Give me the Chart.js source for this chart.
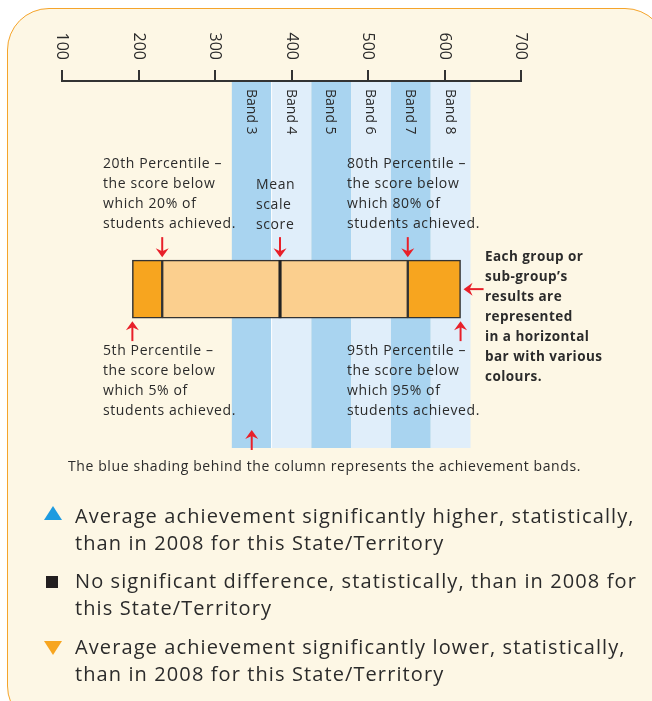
<!DOCTYPE html>
<html lang="en">

<head>
    <meta charset="UTF-8">
    <title>Achievement band key</title>
    <script src="https://cdn.jsdelivr.net/npm/chart.js"></script>
    <style>
        body { margin: 0; background: #fff; font-family: "Open Sans", sans-serif; color: #2b2b2b; }
        .panel { position: absolute; left: 7px; top: 8px; width: 660px; height: 720px;
                 box-sizing: border-box; border: 1.5px solid #f5a42a; border-radius: 42px; background: #fdf7e5; }
        #chart { position: absolute; left: 0; top: 0; }
        .note { position: absolute; font-size: 14px; line-height: 20px; letter-spacing: 0.6px; white-space: nowrap; }
        .bold { font-weight: bold; font-size: 13.5px; letter-spacing: 0.45px; }
        .caption { position: absolute; left: 68px; top: 456px; font-size: 14px; line-height: 20px; letter-spacing: 0.6px; white-space: nowrap; }
        .key { position: absolute; left: 75px; font-size: 20px; line-height: 27px; letter-spacing: 1.1px; white-space: nowrap; }
        .mark { position: absolute; left: 42px; }
    </style>
</head>

<body>
    <div class="panel"></div>
    <canvas id="chart" width="652" height="701"></canvas>

    <!-- notes round the bar -->
    <div class="note" style="left:103px; top:153px;">20th Percentile –<br>the score below<br>which 20% of<br>students achieved.</div>
    <div class="note" style="left:256px; top:174px;">Mean<br>scale<br>score</div>
    <div class="note" style="left:347px; top:153px;">80th Percentile –<br>the score below<br>which 80% of<br>students achieved.</div>
    <div class="note" style="left:103px; top:340px;">5th Percentile –<br>the score below<br>which 5% of<br>students achieved.</div>
    <div class="note" style="left:347px; top:340px;">95th Percentile –<br>the score below<br>which 95% of<br>students achieved.</div>
    <div class="note bold" style="left:485px; top:246px;">Each group or<br>sub-group’s<br>results are<br>represented<br>in a horizontal<br>bar with various<br>colours.</div>
    <div class="caption">The blue shading behind the column represents the achievement bands.</div>

    <!-- key -->
    <svg class="mark" style="top:504px;" width="22" height="18"><polygon points="2,16 20,16 11,2" fill="#1e9be0" /></svg>
    <div class="key" style="top:502px;">Average achievement significantly higher, statistically,<br>than in 2008 for this State/Territory</div>
    <svg class="mark" style="top:573px;" width="22" height="18"><rect x="4" y="3" width="12" height="12" fill="#231f20" /></svg>
    <div class="key" style="top:567px;">No significant difference, statistically, than in 2008 for<br>this State/Territory</div>
    <svg class="mark" style="top:639px;" width="22" height="18"><polygon points="2,2 20,2 11,16" fill="#f7a51f" /></svg>
    <div class="key" style="top:633px;">Average achievement significantly lower, statistically,<br>than in 2008 for this State/Territory</div>

<script>
    // scale and bands
    var tickValues = [100, 200, 300, 400, 500, 600, 700];
    var bandNames = ['Band 3', 'Band 4', 'Band 5', 'Band 6', 'Band 7', 'Band 8'];
    var bandEdges = [322, 374, 426, 478, 530, 582, 634];

    // the example bar: 5th, 20th, mean, 80th, 95th
    var percentileNames = ['5th', '20th', 'Mean', '80th', '95th'];
    var percentileValues = [192, 231, 385, 552, 621];
    var segmentColours = ['#f7a51f', '#fbcf8e', '#fbcf8e', '#f7a51f'];

    var rows = ['', '', '', '', 'Group', '', '', ''];
    var groupRow = 4;

    var dark = '#2b2b2b';
    var red = '#e8202a';

    var datasets = [];
    for (var i = 0; i < segmentColours.length; i++) {
        var d = rows.map(function () { return null; });
        d[groupRow] = [percentileValues[i], percentileValues[i + 1]];
        datasets.push({
            data: d,
            backgroundColor: segmentColours[i],
            borderColor: '#333',
            borderWidth: 1.5,
            borderSkipped: false,
            barThickness: 58,
            grouped: false
        });
    }

    function arrow(ctx, x, y, dx, dy) {
        // tip at (x, y), pointing along (dx, dy)
        var len = 20, head = 9, half = 6.5;
        var px = -dy, py = dx;
        ctx.strokeStyle = red;
        ctx.fillStyle = red;
        ctx.lineWidth = 2;
        ctx.beginPath();
        ctx.moveTo(x - dx * len, y - dy * len);
        ctx.lineTo(x - dx * 5, y - dy * 5);
        ctx.stroke();
        ctx.beginPath();
        ctx.moveTo(x, y);
        ctx.lineTo(x - dx * head + px * half, y - dy * head + py * half);
        ctx.lineTo(x - dx * 6, y - dy * 6);
        ctx.lineTo(x - dx * head - px * half, y - dy * head - py * half);
        ctx.closePath();
        ctx.fill();
    }

    var bandPlugin = {
        id: 'bands',
        beforeDraw: function (chart) {
            var ctx = chart.ctx, xs = chart.scales.x, area = chart.chartArea;
            var bottom = area.bottom - 3;
            ctx.save();
            for (var i = 0; i < bandNames.length; i++) {
                var x0 = xs.getPixelForValue(bandEdges[i]);
                var x1 = xs.getPixelForValue(bandEdges[i + 1]);
                ctx.fillStyle = i % 2 == 0 ? '#a9d4f0' : '#e0eefa';
                ctx.fillRect(x0, area.top + 1, x1 - x0, bottom - area.top - 1);
            }
            var xw = xs.getPixelForValue(bandEdges[1]);
            ctx.fillStyle = '#ffffff';
            ctx.fillRect(xw - 0.5, area.top + 1, 1, bottom - area.top - 1);
            ctx.restore();
        },
        afterDatasetsDraw: function (chart) {
            // heavier line at the mean
            var ctx = chart.ctx, xs = chart.scales.x, ys = chart.scales.y;
            var xm = xs.getPixelForValue(percentileValues[2]);
            var yc = ys.getPixelForValue(groupRow);
            ctx.save();
            ctx.strokeStyle = '#222';
            ctx.lineWidth = 3;
            ctx.beginPath();
            ctx.moveTo(xm, yc - 29);
            ctx.lineTo(xm, yc + 29);
            ctx.stroke();
            ctx.restore();
        },
        afterDraw: function (chart) {
            var ctx = chart.ctx, xs = chart.scales.x, ys = chart.scales.y, area = chart.chartArea;
            ctx.save();
            ctx.fillStyle = dark;
            ctx.textBaseline = 'middle';

            // tick labels, turned clockwise
            ctx.font = '16px "Open Sans", sans-serif';
            ctx.textAlign = 'right';
            tickValues.forEach(function (v) {
                ctx.save();
                ctx.translate(xs.getPixelForValue(v), area.top - 21);
                ctx.rotate(Math.PI / 2);
                ctx.fillText(String(v), 0, 0);
                ctx.restore();
            });

            // band names
            ctx.font = '14px "Open Sans", sans-serif';
            ctx.textAlign = 'left';
            for (var i = 0; i < bandNames.length; i++) {
                var xc = (xs.getPixelForValue(bandEdges[i]) + xs.getPixelForValue(bandEdges[i + 1])) / 2;
                ctx.save();
                ctx.translate(xc - 1, area.top + 8);
                ctx.rotate(Math.PI / 2);
                ctx.fillText(bandNames[i], 0, 0);
                ctx.restore();
            }

            // arrows
            var yc = ys.getPixelForValue(groupRow);
            var top = yc - 29, bottom = yc + 29;
            [1, 2, 3].forEach(function (k) {
                arrow(ctx, xs.getPixelForValue(percentileValues[k]), top - 3, 0, 1);
            });
            [0, 4].forEach(function (k) {
                arrow(ctx, xs.getPixelForValue(percentileValues[k]), bottom + 3, 0, -1);
            });
            arrow(ctx, xs.getPixelForValue(percentileValues[4]) + 3, yc, -1, 0);
            var b3 = (xs.getPixelForValue(bandEdges[0]) + xs.getPixelForValue(bandEdges[1])) / 2;
            arrow(ctx, b3, area.bottom - 21, 0, -1);
            ctx.restore();
        }
    };

    new Chart(document.getElementById('chart'), {
        type: 'bar',
        data: { labels: rows, datasets: datasets },
        options: {
            responsive: false,
            animation: false,
            devicePixelRatio: 1,
            indexAxis: 'y',
            layout: { padding: { left: 62, right: 131, top: 70, bottom: 250 } },
            plugins: { legend: { display: false }, tooltip: { enabled: false } },
            scales: {
                x: {
                    type: 'linear',
                    position: 'top',
                    min: 100,
                    max: 700,
                    ticks: { display: false, stepSize: 100 },
                    grid: { drawOnChartArea: false, drawTicks: true, tickLength: 11, color: '#333', lineWidth: 2 },
                    border: { display: true, color: '#333', width: 2 }
                },
                y: { display: false }
            }
        },
        plugins: [bandPlugin]
    });
</script>
</body>

</html>
